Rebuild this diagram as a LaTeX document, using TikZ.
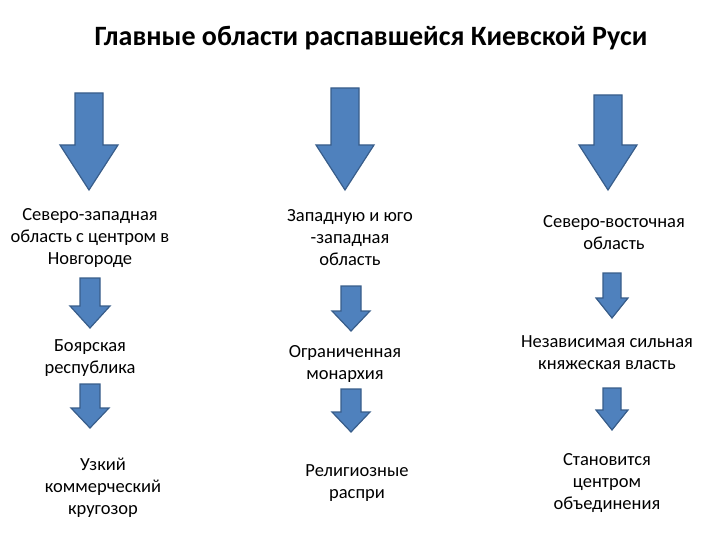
\documentclass[tikz,border=0pt]{standalone}
\usepackage{fontspec}
\setmainfont{Carlito}
\definecolor{afill}{HTML}{4F81BD}
\definecolor{aline}{HTML}{385D8A}
\tikzset{lbl/.style={align=center,font=\fontsize{18.5}{22}\selectfont,inner sep=0pt},
 arr/.style={fill=afill,draw=aline,line width=1.2pt,line join=miter}}
% \darr{cx}{top}{bottom}{shaftw}{headw}{headlen}  (pixel coords, y down)
\newcommand\darr[6]{%
 \path[arr] (#1-#4/2,-#2) -- (#1+#4/2,-#2) -- (#1+#4/2,-#3+#6) -- (#1+#5/2,-#3+#6)
  -- (#1,-#3) -- (#1-#5/2,-#3+#6) -- (#1-#4/2,-#3+#6) -- cycle;}
\begin{document}
\begin{tikzpicture}[x=1pt,y=1pt]
\useasboundingbox (0,0) rectangle (720,-540);
\node[font=\fontsize{28}{32}\selectfont\bfseries,inner sep=0pt] (title) at (371,-38) {Главные области распавшейся Киевской Руси};
\darr{89}{93}{190}{28}{58}{45}
\darr{345}{88}{190}{28}{58}{45}
\darr{608}{95}{190}{28}{58}{45}
\darr{90}{278}{328}{20}{40}{22}
\darr{351}{286}{331}{20}{38}{20}
\darr{612}{273}{318}{18}{32}{20}
\darr{90}{384}{428}{20}{38}{20}
\darr{351}{389}{432}{20}{38}{20}
\darr{612}{388}{430}{18}{32}{20}
\node[lbl] (a1) at (90,-238) {Северо-западная\\область с центром в\\Новгороде};
\node[lbl] (b1) at (350,-238) {Западную и юго\\-западная\\область};
\node[lbl] (c1) at (614,-233) {Северо-восточная\\область};
\node[lbl] (a2) at (90,-358) {Боярская\\республика};
\node[lbl] (b2) at (345,-364) {Ограниченная\\монархия};
\node[lbl] (c2) at (607,-353) {Независимая сильная\\княжеская власть};
\node[lbl] (a3) at (103,-488) {Узкий\\коммерческий\\кругозор};
\node[lbl] (b3) at (357,-483) {Религиозные\\распри};
\node[lbl] (c3) at (607,-483) {Становится\\центром\\объединения};
\end{tikzpicture}
\end{document}
